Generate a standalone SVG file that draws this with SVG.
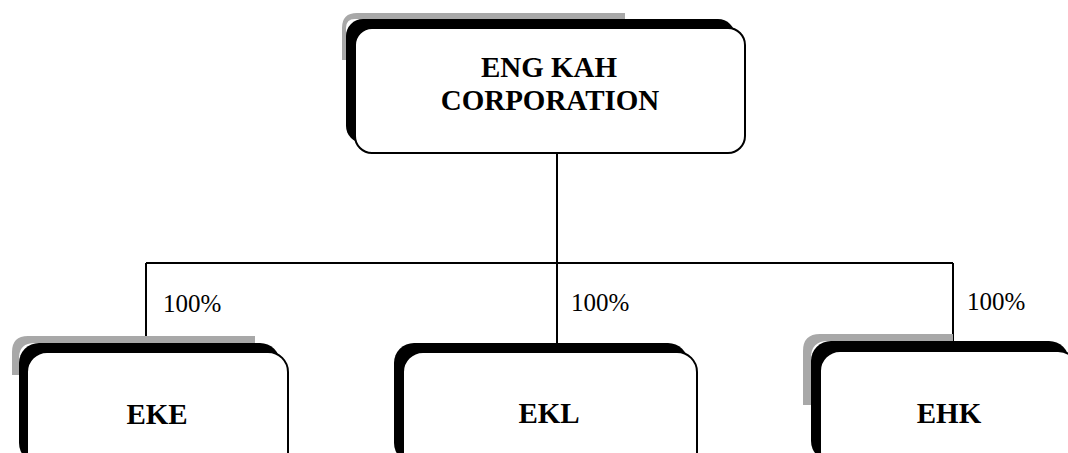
<svg xmlns="http://www.w3.org/2000/svg" width="1068" height="453" viewBox="0 0 1068 453">
<style>
.box{fill:#fff;stroke:#000;stroke-width:2}
.shadow{fill:#000}
.halo{fill:#a8a8a8}
.lbl{font-family:"Liberation Serif","Times New Roman",serif;font-weight:bold;font-size:29px;fill:#000;text-anchor:middle}
.pct{font-family:"Liberation Serif","Times New Roman",serif;font-size:25px;fill:#000}
.line{stroke:#000;stroke-width:2;fill:none}
</style>
<g id="connectors">
<line class="line" x1="557" y1="153" x2="557" y2="263"/>
<line class="line" x1="146" y1="263" x2="953" y2="263"/>
<line class="line" x1="146" y1="263" x2="146" y2="344"/>
<line class="line" x1="557" y1="263" x2="557" y2="344"/>
<line class="line" x1="953" y1="263" x2="953" y2="342"/>
<text class="pct" x="163" y="312">100%</text>
<text class="pct" x="571" y="311">100%</text>
<text class="pct" x="967" y="310">100%</text>
</g>
<g id="node-eng-kah">
<path class="halo" d="M342 60 V28 Q342 13 357 13 H625 V19 H355 Q346 19 346 28 V60 Z"/>
<rect class="shadow" x="346" y="19" width="389" height="124" rx="17"/>
<rect class="box" x="355" y="28" width="390" height="125" rx="17"/>
<text class="lbl" x="549" y="77">ENG KAH</text>
<text class="lbl" x="550" y="110">CORPORATION</text>
</g>
<g id="node-eke">
<path class="halo" d="M12 375 V352 Q12 336 28 336 H255 V343 H35 Q19 343 19 358 V375 Z"/>
<rect class="shadow" x="19" y="343" width="261" height="120" rx="20"/>
<rect class="box" x="27" y="352" width="261" height="120" rx="20"/>
<text class="lbl" x="157" y="424">EKE</text>
</g>
<g id="node-ekl">
<rect class="shadow" x="394" y="343" width="294" height="120" rx="20"/>
<rect class="box" x="403" y="352" width="294" height="120" rx="20"/>
<text class="lbl" x="549" y="423">EKL</text>
</g>
<g id="node-ehk">
<path class="halo" d="M803 405 V351 Q803 334 820 334 H953 V341 H828 Q811 341 811 358 V405 Z"/>
<rect class="shadow" x="811" y="341" width="258" height="120" rx="20"/>
<rect class="box" x="820" y="351" width="258" height="120" rx="20"/>
<text class="lbl" x="949" y="423">EHK</text>
</g>
</svg>
